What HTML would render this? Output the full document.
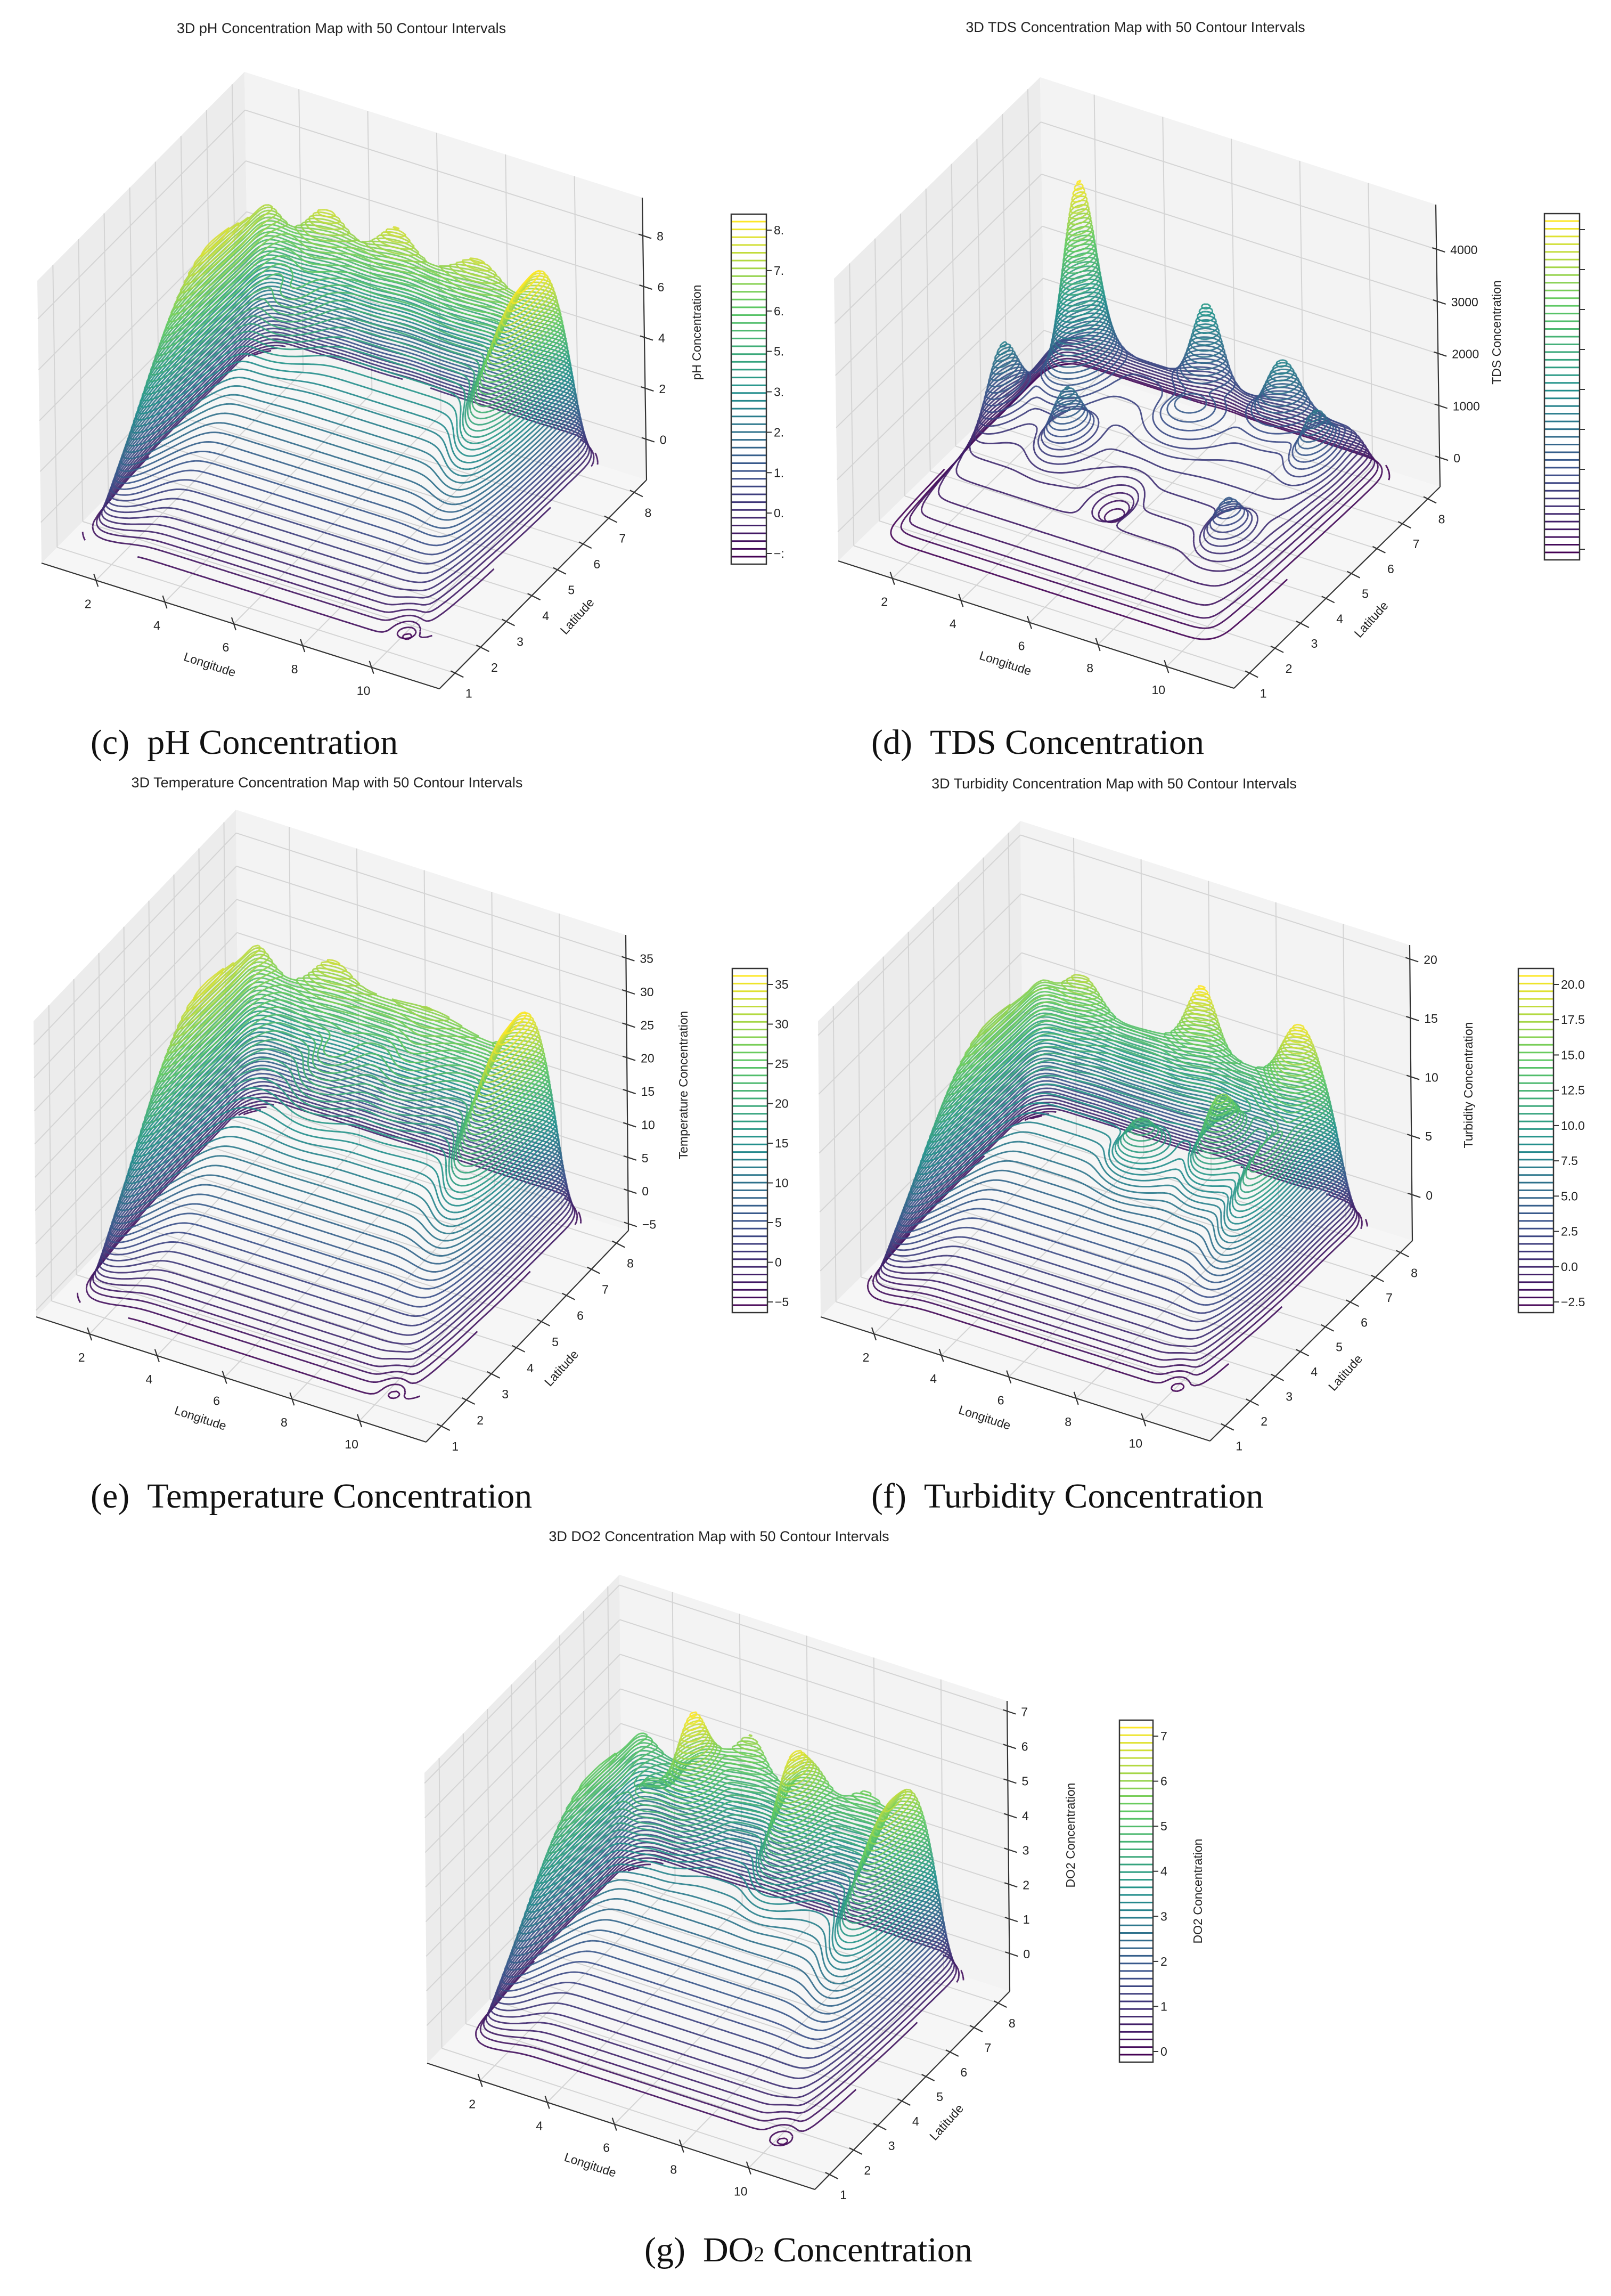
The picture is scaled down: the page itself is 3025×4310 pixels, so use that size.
<!DOCTYPE html>
<html><head><meta charset="utf-8"><title>3D Concentration Maps</title>
<style>
html,body{margin:0;padding:0;background:#fff;}
svg{display:block;}
.t{font-family:"Liberation Sans",sans-serif;fill:#222;}
.cap{font-family:"Liberation Serif",serif;fill:#111;}
</style></head>
<body>
<svg id="root" width="3025" height="4310" viewBox="0 0 3025 4310">
<rect x="0" y="0" width="3025" height="4310" fill="#ffffff"/>
<text class="cap" x="170" y="1415" font-size="66">(c)&#160;&#160;pH Concentration</text>
<text class="cap" x="1636" y="1415" font-size="66">(d)&#160;&#160;TDS Concentration</text>
<text class="cap" x="170" y="2830" font-size="66">(e)&#160;&#160;Temperature Concentration</text>
<text class="cap" x="1636" y="2830" font-size="66">(f)&#160;&#160;Turbidity Concentration</text>
<text class="cap" x="1210" y="4245" font-size="66">(g)&#160;&#160;DO<tspan font-size="40">2</tspan> Concentration</text>
</svg>
<script>
// ---- data: surface base [offset, rise front->back] and bumps [lon, lat, amplitude, sigmaLon, sigmaLat] ----
const lonTicks = [2,4,6,8,10];
const latTicks = [1,2,3,4,5,6,7,8];
const phBase = [-0.8, 5.8];
const phBumps = [[1.6,4.6,5.2,0.5,2.0],[6,7.9,2.6,3.4,0.5],[3.5,7.7,1.6,0.5,0.5],[5.5,7.9,2.1,0.45,0.4],[8,7.6,1.3,0.6,0.5],[10,6.2,3.6,0.5,1.2],[3.5,6,1.2,0.6,0.6],[10.3,1.4,-1.2,0.25,0.25]];
const phZTicks = [0,2,4,6,8];
const phCbLabels = ['8.','7.','6.','5.','3.','2.','1.','0.','\u2212:'];
const tdsBase = [-100, 1000];
const tdsBumps = [[3,6.5,3700,0.35,0.45],[6,7.5,1700,0.35,0.35],[1.8,5,1400,0.3,0.45],[4,4.6,1100,0.35,0.4],[8.5,7,1100,0.4,0.4],[10,6.3,900,0.3,0.4],[6,3.8,-500,0.35,0.4],[9.5,3.5,800,0.35,0.4],[6.5,6,500,0.6,0.5]];
const tdsZTicks = [0,1000,2000,3000,4000];
const tdsCbLabels = ['','','','','','','','',''];
const tempBase = [-4, 25];
const tempBumps = [[1.6,4.6,21,0.5,2.0],[6,7.9,10,3.4,0.5],[4,7.6,5,0.5,0.4],[5,6,5,0.6,0.6],[7,6.5,4,0.6,0.6],[10,6.2,14,0.5,1.2],[10.3,1.4,-4,0.25,0.25]];
const tempZTicks = [-5,0,5,10,15,20,25,30,35];
const tempCbLabels = ['35','30','25','20','15','10','5','0','\u22125'];
const turbBase = [-2, 11.5];
const turbBumps = [[1.6,4.6,9.5,0.5,2.0],[6,7.9,4,3.4,0.5],[6.5,7.8,8,0.4,0.4],[9.5,7.5,6,0.5,0.6],[8.5,5.5,6,0.4,0.5],[6.5,5,4,0.5,0.4],[3,7.5,4,0.5,0.5],[10.2,5,5,0.5,1],[10.3,1.4,-2,0.25,0.25]];
const turbZTicks = [0,5,10,15,20];
const turbCbLabels = ['20.0','17.5','15.0','12.5','10.0','7.5','5.0','2.5','0.0','\u22122.5'];
const doBase = [-0.6, 4.0];
const doBumps = [[1.6,4.6,3.2,0.5,2.0],[6,7.9,1.7,3.4,0.5],[4,6.5,3.2,0.4,0.5],[5,7.8,1.8,0.4,0.4],[7,6.5,3,0.4,0.6],[8.5,7.8,1.3,0.5,0.4],[3,6,1.5,0.4,0.4],[10,6.2,2.8,0.5,1.2],[10.3,1.4,-0.8,0.25,0.25]];
const doZTicks = [0,1,2,3,4,5,6,7];
const doCbLabels = ['7','6','5','4','3','2','1','0'];

const NS = document.getElementById('root').namespaceURI;
const root = document.getElementById('root');
function mk(tag, parent){ const e = document.createElementNS(NS, tag); parent.appendChild(e); return e; }

const VIR = [[0,[68,1,84]],[0.25,[59,82,139]],[0.5,[33,145,140]],[0.75,[94,201,98]],[1,[253,231,37]]];
function viridis(t){
  t = Math.max(0, Math.min(1, t));
  for (let i = 0; i < VIR.length-1; i++){
    const a = VIR[i], b = VIR[i+1];
    if (t <= b[0]){ const u = (t-a[0])/(b[0]-a[0]);
      return 'rgb(' + a[1].map((v,k)=>Math.round(v+(b[1][k]-v)*u)).join(',') + ')'; }
  }
  return 'rgb(253,231,37)';
}

const panels = [
 {key:'ph', title:'3D pH Concentration Map with 50 Contour Intervals', tx:641, ty:62, O:[78,1057], U:[747,236], V:[389,-392], W:[-8,-530], zmin:-1.6, zmax:9.5, lo:-1.0, base:phBase, bumps:phBumps, zt:phZTicks, zlabel:'pH Concentration', zlx:1316, zly:624, cb:[1373,402,66,657], cbl:phCbLabels},
 {key:'tds', title:'3D TDS Concentration Map with 50 Contour Intervals', tx:2132, ty:60, O:[1574,1053], U:[743,239], V:[387,-378], W:[-8,-530], zmin:-560, zmax:4860, lo:-350, base:tdsBase, bumps:tdsBumps, zt:tdsZTicks, zlabel:'TDS Concentration', zlx:2818, zly:624, cb:[2900,401,66,650], cbl:tdsCbLabels},
 {key:'temperature', title:'3D Temperature Concentration Map with 50 Contour Intervals', tx:614, ty:1478, O:[68,2472], U:[732,235], V:[380,-397], W:[-5,-555], zmin:-6, zmax:38.5, lo:-5, base:tempBase, bumps:tempBumps, zt:tempZTicks, zlabel:'Temperature Concentration', zlx:1291, zly:2037, cb:[1375,1818,66,646], cbl:tempCbLabels},
 {key:'turbidity', title:'3D Turbidity Concentration Map with 50 Contour Intervals', tx:2092, ty:1480, O:[1541,2472], U:[731,233], V:[380,-376], W:[-5,-555], zmin:-3.9, zmax:21.2, lo:-2.8, base:turbBase, bumps:turbBumps, zt:turbZTicks, zlabel:'Turbidity Concentration', zlx:2765, zly:2037, cb:[2851,1818,66,646], cbl:turbCbLabels},
 {key:'do2', title:'3D DO2 Concentration Map with 50 Contour Intervals', tx:1350, ty:2893, O:[802,3873], U:[728,237], V:[366,-372], W:[-5,-545], zmin:-1.09, zmax:7.3, lo:-0.8, base:doBase, bumps:doBumps, zt:doZTicks, zlabel:'DO2 Concentration', zlx:2018, zly:3445, cb:[2102,3229,63,642], cbl:doCbLabels, cbTitle:'DO2 Concentration'}
];
const X0 = 0.42, X1 = 11.97, Y0 = 0.39, Y1 = 8.48;

function sig(v){ return 1/(1+Math.exp(-v)); }

panels.forEach(p => {
  const g = mk('g', root);
  
  
  const P = (x,y,z) => {
    const a = (x-X0)/(X1-X0), b = (y-Y0)/(Y1-Y0), c = (z-p.zmin)/(p.zmax-p.zmin);
    return [p.O[0]+a*p.U[0]+b*p.V[0]+c*p.W[0], p.O[1]+a*p.U[1]+b*p.V[1]+c*p.W[1]];
  };
  const pts = arr => arr.map(q => q[0].toFixed(1)+','+q[1].toFixed(1)).join(' ');
  const zl = p.zmin, zh = p.zmax;
  const left = mk('polygon', g);
  
  
  left.setAttribute('points', pts([P(X0,Y0,zl),P(X0,Y1,zl),P(X0,Y1,zh),P(X0,Y0,zh)]));
  left.setAttribute('fill', '#ececec');
  const back = mk('polygon', g);
  
  
  back.setAttribute('points', pts([P(X0,Y1,zl),P(X1,Y1,zl),P(X1,Y1,zh),P(X0,Y1,zh)]));
  back.setAttribute('fill', '#f3f3f3');
  const floor = mk('polygon', g);
  
  
  floor.setAttribute('points', pts([P(X0,Y0,zl),P(X1,Y0,zl),P(X1,Y1,zl),P(X0,Y1,zl)]));
  floor.setAttribute('fill', '#f6f6f6');
  let gd = '';
  const seg = (a,b) => 'M'+a[0].toFixed(1)+' '+a[1].toFixed(1)+'L'+b[0].toFixed(1)+' '+b[1].toFixed(1);
  lonTicks.forEach(t => { gd += seg(P(t,Y0,zl),P(t,Y1,zl)) + seg(P(t,Y1,zl),P(t,Y1,zh)); });
  latTicks.forEach(t => { gd += seg(P(X0,t,zl),P(X1,t,zl)) + seg(P(X0,t,zl),P(X0,t,zh)); });
  p.zt.forEach(t => { gd += seg(P(X0,Y0,t),P(X0,Y1,t)) + seg(P(X0,Y1,t),P(X1,Y1,t)); });
  const grid = mk('path', g);
  
  
  grid.setAttribute('d', gd);
  grid.setAttribute('stroke', '#d4d4d4');
  grid.setAttribute('stroke-width', '2');
  grid.setAttribute('fill', 'none');
  let ad = seg(P(X0,Y0,zl),P(X1,Y0,zl)) + seg(P(X1,Y0,zl),P(X1,Y1,zl)) + seg(P(X1,Y1,zl),P(X1,Y1,zh));
  lonTicks.forEach(t => { const a = P(t,Y0,zl); ad += seg([a[0]-4,a[1]-12],[a[0]+4,a[1]+12]); });
  latTicks.forEach(t => { const a = P(X1,t,zl); ad += seg([a[0]-8,a[1]-4],[a[0]+16,a[1]+8]); });
  p.zt.forEach(t => { const a = P(X1,Y1,t); ad += seg([a[0]-8,a[1]-3],[a[0]+16,a[1]+5]); });
  const axes = mk('path', g);
  
  
  axes.setAttribute('d', ad);
  axes.setAttribute('stroke', '#333');
  axes.setAttribute('stroke-width', '2.2');
  axes.setAttribute('fill', 'none');
  lonTicks.forEach(t => {
    const a = P(t,Y0,zl);
    const tx = mk('text', g);
    
    
    tx.setAttribute('class','t'); tx.setAttribute('font-size','23'); tx.setAttribute('text-anchor','middle');
    tx.setAttribute('x', (a[0]-15).toFixed(1)); tx.setAttribute('y', (a[1]+52).toFixed(1));
    tx.textContent = t;
  });
  latTicks.forEach(t => {
    const a = P(X1,t,zl);
    const tx = mk('text', g);
    
    
    tx.setAttribute('class','t'); tx.setAttribute('font-size','23'); tx.setAttribute('text-anchor','middle');
    tx.setAttribute('x', (a[0]+26).toFixed(1)); tx.setAttribute('y', (a[1]+46).toFixed(1));
    tx.textContent = t;
  });
  p.zt.forEach(t => {
    const a = P(X1,Y1,t);
    const tx = mk('text', g);
    
    
    tx.setAttribute('class','t'); tx.setAttribute('font-size','23');
    tx.setAttribute('x', (a[0]+26).toFixed(1)); tx.setAttribute('y', (a[1]+9).toFixed(1));
    tx.textContent = String(t).replace('-','\u2212');
  });
  const lm = P((X0+X1)/2, Y0, zl);
  const lonT = mk('text', g);
  
  
  lonT.setAttribute('class','t'); lonT.setAttribute('font-size','23'); lonT.setAttribute('text-anchor','middle');
  lonT.setAttribute('transform', 'translate(' + (lm[0]-60).toFixed(1) + ',' + (lm[1]+80).toFixed(1) + ') rotate(18)');
  lonT.textContent = 'Longitude';
  const am = P(X1, (Y0+Y1)/2, zl);
  const latT = mk('text', g);
  
  
  latT.setAttribute('class','t'); latT.setAttribute('font-size','23'); latT.setAttribute('text-anchor','middle');
  latT.setAttribute('transform', 'translate(' + (am[0]+70).toFixed(1) + ',' + (am[1]+65).toFixed(1) + ') rotate(-48)');
  latT.textContent = 'Latitude';
  const zT = mk('text', g);
  
  
  zT.setAttribute('class','t'); zT.setAttribute('font-size','23'); zT.setAttribute('text-anchor','middle');
  zT.setAttribute('transform', 'translate(' + p.zlx + ',' + p.zly + ') rotate(-90)');
  zT.textContent = p.zlabel;
  const title = mk('text', g);
  
  
  title.setAttribute('class','t'); title.setAttribute('font-size','27'); title.setAttribute('text-anchor','middle');
  title.setAttribute('x', p.tx); title.setAttribute('y', p.ty);
  title.textContent = p.title;

  const NX = 110, NY = 84, xa = 1.0, xb = 11.0, ya = 1.0, yb = 8.2;
  const F = [];
  let fmin = Infinity, fmax = -Infinity;
  for (let j = 0; j <= NY; j++){
    const row = [];
    const y = ya + (yb-ya)*j/NY;
    for (let i = 0; i <= NX; i++){
      const x = xa + (xb-xa)*i/NX;
      let v = p.base[0] + p.base[1]*(y-1)/7;
      p.bumps.forEach(b => { v += b[2]*Math.exp(-((x-b[0])*(x-b[0])/(2*b[3]*b[3]) + (y-b[1])*(y-b[1])/(2*b[4]*b[4]))); });
      const m = sig((x-1.4)/0.16)*sig((10.6-x)/0.16)*sig((y-1.3)/0.14)*sig((7.8-y)/0.16);
      v = p.lo + m*(v-p.lo);
      row.push(v); if (v<fmin) fmin=v; if (v>fmax) fmax=v;
    }
    F.push(row);
  }
  const cg = mk('g', g);
  
  
  const NL = 50;
  for (let k = 0; k < NL; k++){
    const lev = fmin + (fmax-fmin)*(k+0.5)/NL;
    let d = '';
    const XY = (i,j) => [xa+(xb-xa)*i/NX, ya+(yb-ya)*j/NY];
    for (let j = 0; j < NY; j++){
      for (let i = 0; i < NX; i++){
        const c = [[i,j],[i+1,j],[i+1,j+1],[i,j+1]];
        const vals = c.map(q => F[q[1]][q[0]]);
        const hits = [];
        for (let e = 0; e < 4; e++){
          const a = vals[e], b = vals[(e+1)%4];
          if ((a < lev) !== (b < lev)){
            const u = (lev-a)/(b-a);
            const pa = XY(c[e][0],c[e][1]), pb = XY(c[(e+1)%4][0],c[(e+1)%4][1]);
            hits.push(P(pa[0]+(pb[0]-pa[0])*u, pa[1]+(pb[1]-pa[1])*u, lev));
          }
        }
        if (hits.length >= 2) d += seg(hits[0], hits[1]);
        if (hits.length === 4) d += seg(hits[2], hits[3]);
      }
    }
    const path = mk('path', cg);
    
    
    path.setAttribute('d', d);
    path.setAttribute('stroke', viridis(k/(NL-1)));
    path.setAttribute('stroke-width', '2.9');
    path.setAttribute('stroke-opacity', '0.9');
    path.setAttribute('fill', 'none');
  }

  const cb = mk('g', g);
  
  
  const [cx, cy, cw, ch] = p.cb;
  const NC = 44;
  for (let k = 0; k < NC; k++){
    const yy = cy + ch - 14 - (ch-28)*k/(NC-1);
    const ln = mk('line', cb);
    
    
    ln.setAttribute('x1', cx); ln.setAttribute('x2', cx+cw);
    ln.setAttribute('y1', yy.toFixed(1)); ln.setAttribute('y2', yy.toFixed(1));
    ln.setAttribute('stroke', viridis(k/(NC-1)));
    ln.setAttribute('stroke-width', '3');
  }
  const fr = mk('rect', cb);
  
  
  fr.setAttribute('x', cx); fr.setAttribute('y', cy); fr.setAttribute('width', cw); fr.setAttribute('height', ch);
  fr.setAttribute('fill', 'none'); fr.setAttribute('stroke', '#333'); fr.setAttribute('stroke-width', '2.5');
  const nl = p.cbl.length;
  p.cbl.forEach((lab, idx) => {
    const yy = cy + 30 + (ch-50)*idx/(nl-1);
    const tk = mk('line', cb);
    
    
    tk.setAttribute('x1', cx+cw); tk.setAttribute('x2', cx+cw+10);
    tk.setAttribute('y1', yy.toFixed(1)); tk.setAttribute('y2', yy.toFixed(1));
    tk.setAttribute('stroke', '#333'); tk.setAttribute('stroke-width', '2');
    const tl = mk('text', cb);
    
    
    tl.setAttribute('class','t'); tl.setAttribute('font-size','23');
    tl.setAttribute('x', cx+cw+14); tl.setAttribute('y', (yy+8).toFixed(1));
    tl.textContent = lab;
  });
  if (p.cbTitle){
    const ct = mk('text', cb);
    
    
    ct.setAttribute('class','t'); ct.setAttribute('font-size','23'); ct.setAttribute('text-anchor','middle');
    ct.setAttribute('transform', 'translate(' + (cx+cw+92) + ',' + (cy+ch/2) + ') rotate(-90)');
    ct.textContent = p.cbTitle;
  }
});
</script>
</body></html>
